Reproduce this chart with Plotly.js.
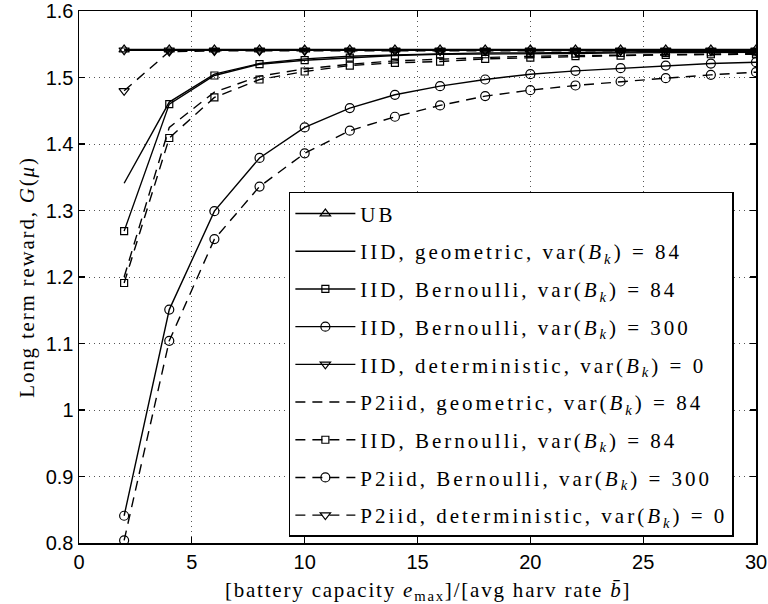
<!DOCTYPE html>
<html>
<head>
<meta charset="utf-8">
<script src="https://cdn.plot.ly/plotly-3.0.1.min.js"></script>
<style>
html,body{margin:0;padding:0;background:#fff;}
#chart{width:768px;height:604px;}
.legendtext{letter-spacing:3.0px;}
.xtitle,.ytitle{letter-spacing:1.8px;}
</style>
</head>
<body>
<div id="chart"></div>
<script>
// x: battery capacity / avg harvesting rate
const capacity = [2, 4, 6, 8, 10, 12, 14, 16, 18, 20, 22, 24, 26, 28, 30];

// series values
const ub            = [1.542, 1.542, 1.542, 1.542, 1.542, 1.542, 1.542, 1.542, 1.542, 1.542, 1.542, 1.542, 1.542, 1.542, 1.542];
const iidGeom84     = [1.341, 1.463, 1.505, 1.521, 1.528, 1.532, 1.534, 1.536, 1.537, 1.537, 1.538, 1.538, 1.539, 1.539, 1.539];
const iidBern84     = [1.269, 1.460, 1.503, 1.520, 1.526, 1.530, 1.533, 1.535, 1.535, 1.536, 1.536, 1.537, 1.537, 1.538, 1.538];
const iidBern300    = [0.841, 1.151, 1.299, 1.379, 1.425, 1.454, 1.474, 1.487, 1.497, 1.505, 1.510, 1.514, 1.518, 1.521, 1.523];
const iidDet0       = [1.541, 1.541, 1.541, 1.541, 1.541, 1.541, 1.541, 1.541, 1.541, 1.541, 1.541, 1.541, 1.541, 1.541, 1.541];
const p2Geom84      = [1.200, 1.425, 1.478, 1.502, 1.513, 1.520, 1.525, 1.528, 1.530, 1.532, 1.533, 1.534, 1.535, 1.536, 1.536];
const p2Bern84      = [1.191, 1.409, 1.470, 1.497, 1.509, 1.518, 1.522, 1.524, 1.528, 1.530, 1.532, 1.533, 1.534, 1.535, 1.535];
const p2Bern300     = [0.804, 1.104, 1.257, 1.336, 1.386, 1.420, 1.441, 1.458, 1.472, 1.481, 1.488, 1.494, 1.499, 1.504, 1.508];
const p2Det0        = [1.480, 1.539, 1.540, 1.540, 1.540, 1.540, 1.540, 1.540, 1.540, 1.540, 1.540, 1.540, 1.540, 1.540, 1.540];

// labels
const seriesNames = [
  'UB',
  'IID, geometric, var(<i>B</i><sub><i>k</i></sub>) = 84',
  'IID, Bernoulli, var(<i>B</i><sub><i>k</i></sub>) = 84',
  'IID, Bernoulli, var(<i>B</i><sub><i>k</i></sub>) = 300',
  'IID, deterministic, var(<i>B</i><sub><i>k</i></sub>) = 0',
  'P2iid, geometric, var(<i>B</i><sub><i>k</i></sub>) = 84',
  'IID, Bernoulli, var(<i>B</i><sub><i>k</i></sub>) = 84',
  'P2iid, Bernoulli, var(<i>B</i><sub><i>k</i></sub>) = 300',
  'P2iid, deterministic, var(<i>B</i><sub><i>k</i></sub>) = 0'
];
const xTickVals = [0, 5, 10, 15, 20, 25, 30];
const xTickText = ['0', '5', '10', '15', '20', '25', '30'];
const yTickVals = [0.8, 0.9, 1.0, 1.1, 1.2, 1.3, 1.4, 1.5, 1.6];
const yTickText = ['0.8', '0.9', '1', '1.1', '1.2', '1.3', '1.4', '1.5', '1.6'];

const seriesValues = [ub, iidGeom84, iidBern84, iidBern300, iidDet0, p2Geom84, p2Bern84, p2Bern300, p2Det0];
const symbols = ['triangle-up-open', null, 'square-open', 'circle-open', 'triangle-down-open',
                 null, 'square-open', 'circle-open', 'triangle-down-open'];
const markerSizes = [9, 0, 7, 9, 9, 0, 7, 9, 9];
const dashes = ['solid', 'solid', 'solid', 'solid', 'solid', '10px,7px', '10px,7px', '10px,7px', '10px,7px'];

const traces = seriesValues.map((vals, i) => {
  const t = {
    x: capacity,
    y: vals,
    name: seriesNames[i],
    legendgroup: 'g' + i,
    type: 'scatter',
    mode: symbols[i] ? 'lines+markers' : 'lines',
    line: {color: 'black', width: 1.4, dash: dashes[i]},
    hoverinfo: 'x+y'
  };
  if (symbols[i]) {
    t.marker = {symbol: symbols[i], size: markerSizes[i], color: 'black', line: {width: 1.2, color: 'black'}};
  }
  return t;
});

const tickFont = {family: '"Liberation Sans", Arial, sans-serif', size: 20, color: 'black'};
const serifFont = {family: '"Liberation Serif", "Times New Roman", serif', size: 21, color: 'black'};

const axisCommon = {
  showline: true, linecolor: 'black', linewidth: 1.5, mirror: 'ticks',
  ticks: 'inside', ticklen: 6, tickwidth: 1.2, tickcolor: 'black',
  showgrid: true, gridcolor: '#555', gridwidth: 1, griddash: '1px,4px',
  zeroline: false, tickfont: tickFont, tickmode: 'array'
};

const layout = {
  width: 768, height: 604,
  margin: {l: 79, r: 12, t: 11, b: 61},
  paper_bgcolor: 'white', plot_bgcolor: 'white',
  showlegend: true,
  xaxis: Object.assign({}, axisCommon, {
    range: [0, 30], tickvals: xTickVals, ticktext: xTickText,
    title: {text: '&nbsp;&nbsp;&nbsp;[battery capacity <i>e</i><sub>max</sub>]/[avg harv rate <i>b\u0304</i>]', font: serifFont, standoff: 14}
  }),
  yaxis: Object.assign({}, axisCommon, {
    range: [0.8, 1.6], tickvals: yTickVals, ticktext: yTickText,
    title: {text: 'Long term reward, <i>G</i>(<i>\u03bc</i>)', font: serifFont, standoff: 5}
  }),
  legend: {
    x: 0.31, y: 0.66, xanchor: 'left', yanchor: 'top',
    bgcolor: 'white', bordercolor: 'black', borderwidth: 1.5,
    font: serifFont, itemwidth: 60, tracegroupgap: 7.4, traceorder: 'grouped'
  }
};

Plotly.newPlot('chart', traces, layout, {staticPlot: true, displayModeBar: false});
</script>
</body>
</html>
